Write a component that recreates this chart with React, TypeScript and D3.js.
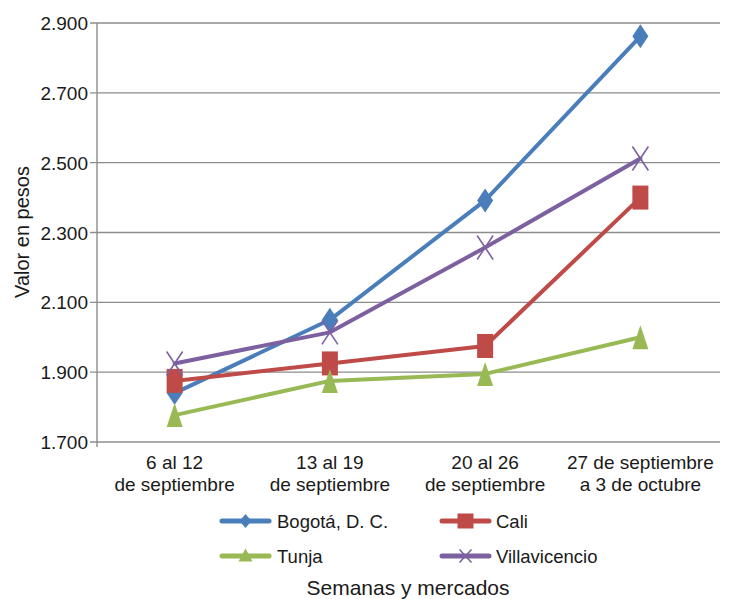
import React from "react";
import * as d3 from "d3";

const categories: string[][] = [
  ["6 al 12", "de septiembre"],
  ["13 al 19", "de septiembre"],
  ["20 al 26", "de septiembre"],
  ["27 de septiembre", "a 3 de octubre"],
];
const seriesNames = ["Bogotá, D. C.", "Cali", "Tunja", "Villavicencio"];
const bogota = [1840, 2050, 2392, 2862];
const cali = [1875, 1925, 1975, 2400];
const tunja = [1777, 1875, 1895, 2000];
const villavicencio = [1925, 2014, 2257, 2512];
const yTicks = [1700, 1900, 2100, 2300, 2500, 2700, 2900];
const yTitle = "Valor en pesos";
const xTitle = "Semanas y mercados";

const colors = ["#4A7EBB", "#BE4B48", "#98B954", "#7D60A0"];
const markers = ["diamond", "square", "triangle", "x"];

const W = 730;
const H = 599;
const FONT = "'Liberation Sans', Arial, sans-serif";

function Marker({ type, x, y, w, h, color }: { type: string; x: number; y: number; w: number; h: number; color: string }) {
  const hw = w / 2;
  const hh = h / 2;
  if (type === "diamond") {
    return <path d={`M${x},${y - hh}L${x + hw},${y}L${x},${y + hh}L${x - hw},${y}Z`} fill={color} />;
  }
  if (type === "square") {
    return <rect x={x - hw} y={y - hh} width={w} height={h} fill={color} />;
  }
  if (type === "triangle") {
    return <path d={`M${x},${y - hh}L${x + hw},${y + hh}L${x - hw},${y + hh}Z`} fill={color} />;
  }
  return (
    <path
      d={`M${x - hw},${y - hh}L${x + hw},${y + hh}M${x + hw},${y - hh}L${x - hw},${y + hh}`}
      stroke={color}
      strokeWidth={1.6}
      fill="none"
    />
  );
}

export default function App() {
  const data = [bogota, cali, tunja, villavicencio];
  const left = 97;
  const right = 718;
  const x = d3
    .scalePoint<number>()
    .domain(categories.map((_, i) => i))
    .range([left, right])
    .padding(0.5);
  const y = d3.scaleLinear().domain([1700, 2900]).range([442, 23]);
  const line = d3
    .line<number>()
    .x((_, i) => x(i) as number)
    .y((d) => y(d));

  const legendItems = [
    { i: 0, lx: 222, ly: 521, tx: 277 },
    { i: 1, lx: 442, ly: 521, tx: 496 },
    { i: 2, lx: 222, ly: 556, tx: 277 },
    { i: 3, lx: 442, ly: 556, tx: 496 },
  ];
  const legendSizes = [
    [12, 14],
    [16, 15],
    [14, 13],
    [12, 13],
  ];

  return (
    <svg width={W} height={H} style={{ position: "absolute", left: 0, top: 0, background: "#fff" }} fontFamily={FONT}>
      {yTicks.map((t) => (
        <g key={t}>
          <line x1={90} x2={720} y1={y(t)} y2={y(t)} stroke="#8c8c8c" strokeWidth={1.4} />
          <text x={88} y={y(t) + 7} textAnchor="end" fontSize={19} fill="#1a1a1a">
            {d3.format(",")(t).replace(",", ".")}
          </text>
        </g>
      ))}
      <line x1={left} x2={left} y1={23} y2={447} stroke="#8c8c8c" strokeWidth={1.4} />
      {categories.map((c, i) => (
        <text key={i} textAnchor="middle" fontSize={19} fill="#1a1a1a">
          <tspan x={x(i)} y={469}>{c[0]}</tspan>
          <tspan x={x(i)} y={491}>{c[1]}</tspan>
        </text>
      ))}
      {data.map((s, si) => (
        <g key={si}>
          <path d={line(s) || ""} fill="none" stroke={colors[si]} strokeWidth={4} strokeLinejoin="round" strokeLinecap="round" />
          {s.map((v, i) => (
            <Marker key={i} type={markers[si]} x={x(i) as number} y={y(v)} w={16} h={24} color={colors[si]} />
          ))}
        </g>
      ))}
      <text transform={`translate(29,232) rotate(-90)`} textAnchor="middle" fontSize={20} fill="#1a1a1a">
        {yTitle}
      </text>
      {legendItems.map((it) => (
        <g key={it.i}>
          <line x1={it.lx} x2={it.lx + 47} y1={it.ly} y2={it.ly} stroke={colors[it.i]} strokeWidth={5} strokeLinecap="round" />
          <Marker
            type={markers[it.i]}
            x={it.lx + 23.5}
            y={it.i === 2 ? it.ly - 1 : it.ly}
            w={legendSizes[it.i][0]}
            h={legendSizes[it.i][1]}
            color={colors[it.i]}
          />
          <text x={it.tx} y={it.ly + 7} fontSize={18.5} fill="#1a1a1a">
            {seriesNames[it.i]}
          </text>
        </g>
      ))}
      <text x={408} y={595} textAnchor="middle" fontSize={21} fill="#1a1a1a">
        {xTitle}
      </text>
    </svg>
  );
}
